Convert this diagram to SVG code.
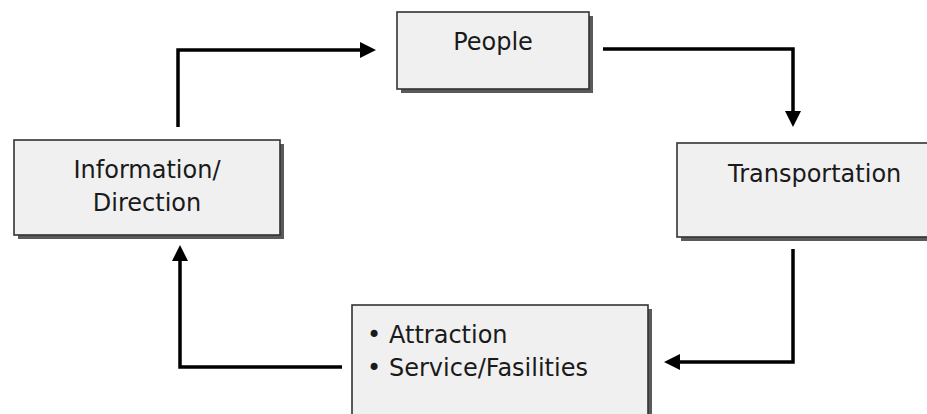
<svg xmlns="http://www.w3.org/2000/svg" width="927" height="414" viewBox="0 0 927 414">
  <defs>
    <marker id="arr" markerUnits="userSpaceOnUse" markerWidth="16" markerHeight="16" refX="12" refY="8" orient="auto">
      <path d="M0,0 L16,8 L0,16 z" fill="#000"/>
    </marker>
  </defs>
  <style>
    .shadow { fill: #5a5a5a; }
    .box { fill: #f0f0f0; stroke: #333; stroke-width: 1.6; }
    .lbl { font-family: "DejaVu Sans", Verdana, sans-serif; font-size: 24px; fill: #1a1a1a; }
    .conn { fill: none; stroke: #000; stroke-width: 3.5; stroke-linejoin: miter; marker-end: url(#arr); }
  </style>
  <rect width="927" height="414" fill="#fff"/>

  <g id="people">
    <rect class="shadow" x="401" y="16" width="192" height="77"/>
    <rect class="box" x="397" y="12" width="192" height="77"/>
    <text class="lbl" x="493" y="50" text-anchor="middle">People</text>
  </g>

  <g id="information">
    <rect class="shadow" x="18" y="144" width="266" height="95"/>
    <rect class="box" x="14" y="140" width="266" height="95"/>
    <text class="lbl" x="147" y="178" text-anchor="middle">Information/</text>
    <text class="lbl" x="147" y="211" text-anchor="middle">Direction</text>
  </g>

  <g id="transportation">
    <rect class="shadow" x="681" y="147" width="260" height="94"/>
    <rect class="box" x="677" y="143" width="260" height="94"/>
    <text class="lbl" x="728" y="182">Transportation</text>
  </g>

  <g id="attraction">
    <rect class="shadow" x="356" y="309" width="296" height="120"/>
    <rect class="box" x="352" y="305" width="296" height="120"/>
    <text class="lbl" x="374" y="343" text-anchor="middle" font-size="20">•</text>
    <text class="lbl" x="389" y="343">Attraction</text>
    <text class="lbl" x="374" y="376" text-anchor="middle" font-size="20">•</text>
    <text class="lbl" x="389" y="376">Service/Fasilities</text>
  </g>

  <g id="connectors">
    <path class="conn" d="M178,127 V50 H372"/>
    <path class="conn" d="M603,49 H793 V123"/>
    <path class="conn" d="M793,249 V362 H668"/>
    <path class="conn" d="M342,367 H180 V249"/>
  </g>
</svg>
